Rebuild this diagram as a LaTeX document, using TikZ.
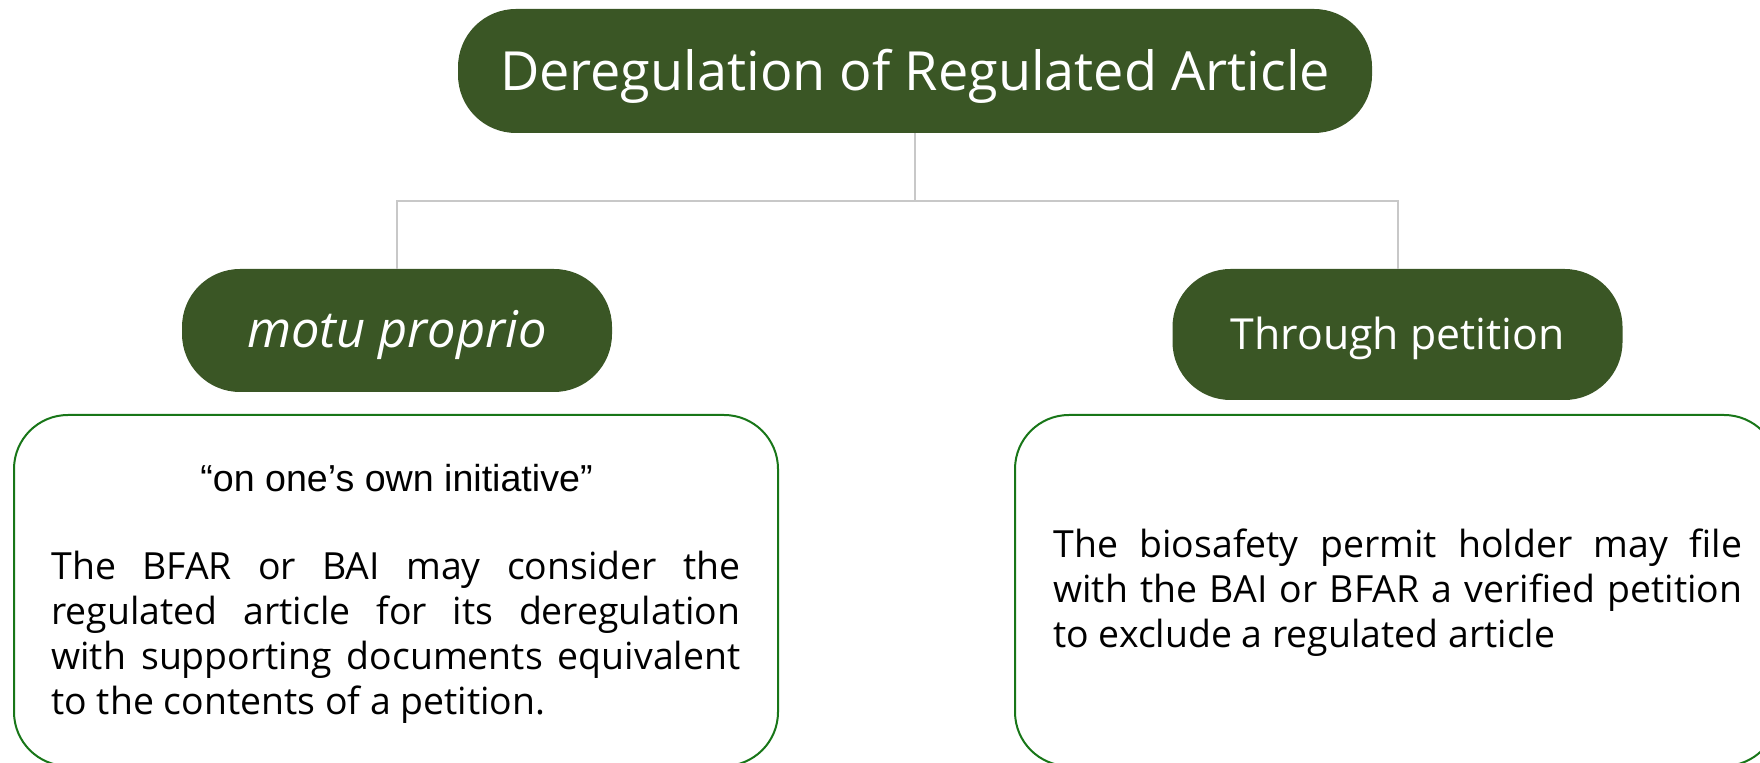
\documentclass[tikz,border=0pt]{standalone}
\usepackage{fontspec}
\setmainfont{Open Sans}
\newfontfamily\arialf{Liberation Sans}
\definecolor{dgreen}{RGB}{58,86,37}
\definecolor{bgreen}{RGB}{24,118,24}
\definecolor{lgray}{RGB}{200,200,200}
\newcommand\jl[1]{\makebox[344.5pt][s]{#1}}
\begin{document}
\begin{tikzpicture}[x=0.5pt,y=-0.5pt,
  pill/.style={fill=dgreen, text=white, inner sep=0pt, rounded corners=29pt},
  textbox/.style={draw=bgreen, line width=1pt, rounded corners=27pt, inner sep=0pt},
  conn/.style={draw=lgray, line width=1pt},
  body/.style={inner sep=0pt, anchor=base west, text=black, font=\fontsize{18.7}{22.5}\selectfont}]
\useasboundingbox (0,0) rectangle (1760,763);
\node[pill, minimum width=457pt, minimum height=62pt, text height=20pt, text depth=0pt,
  font=\fontsize{27}{32}\selectfont] (top) at (915,71) {Deregulation of Regulated Article};
\node[pill, minimum width=215pt, minimum height=61.5pt, text height=17.5pt, text depth=0pt,
  font=\itshape\fontsize{25.3}{30}\selectfont] (motu) at (397,330.5) {motu proprio};
\node[pill, minimum width=225pt, minimum height=65.5pt, text height=15.5pt, text depth=0pt,
  font=\fontsize{21.4}{25}\selectfont] (thr) at (1397.5,334.5) {Through petition};
\coordinate (hb) at (915,201);
\draw[conn] (top.south) -- (hb);
\draw[conn] (motu.north) |- (hb) -| (thr.north);
\node[textbox, minimum width=382pt, minimum height=175.5pt] (lbox) at (396,590.5) {};
\node[textbox, minimum width=381.5pt, minimum height=175.5pt] (rbox) at (1396.5,590.5) {};
\node[inner sep=0pt, anchor=base, font=\arialf\fontsize{18.8}{22}\selectfont] (init) at (396.5,492) {“on one’s own initiative”};
\node[body] (ltext) at (51,580) {\parbox[t]{344.5pt}{\fontsize{18.7}{22.5}\selectfont
\jl{The BFAR or BAI may consider the}\\
\jl{regulated article for its deregulation}\\
\jl{with supporting documents equivalent}\\
to the contents of a petition.}};
\node[body] (rtext) at (1053,558) {\parbox[t]{344.5pt}{\fontsize{18.7}{22.5}\selectfont
\jl{The biosafety permit holder may file}\\
\jl{with the BAI or BFAR a verified petition}\\
to exclude a regulated article}};
\end{tikzpicture}
\end{document}
